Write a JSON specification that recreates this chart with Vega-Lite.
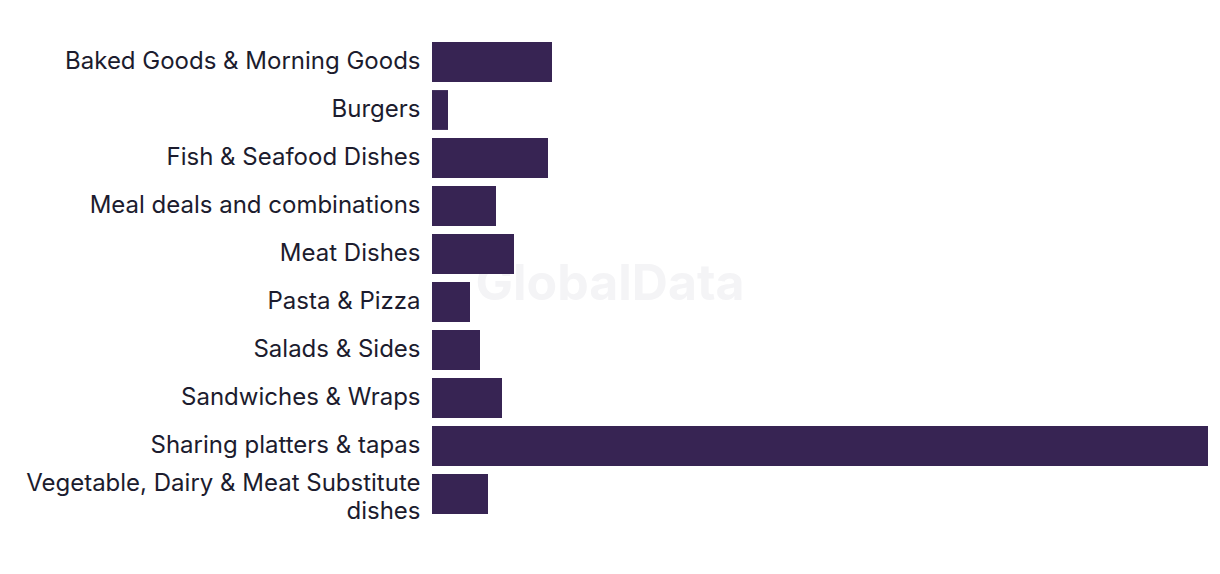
{
  "$schema": "https://vega.github.io/schema/vega-lite/v6.json",
  "width": 776,
  "height": 480,
  "autosize": {"type": "none"},
  "padding": {"left": 432, "top": 38, "right": 12, "bottom": 56},
  "background": "white",
  "config": {"view": {"stroke": null}, "font": "Inter"},
  "data": {"values": [
    {"category": "Baked Goods & Morning Goods", "value": 120},
    {"category": "Burgers", "value": 16},
    {"category": "Fish & Seafood Dishes", "value": 116},
    {"category": "Meal deals and combinations", "value": 64},
    {"category": "Meat Dishes", "value": 82},
    {"category": "Pasta & Pizza", "value": 38},
    {"category": "Salads & Sides", "value": 48},
    {"category": "Sandwiches & Wraps", "value": 70},
    {"category": "Sharing platters & tapas", "value": 776},
    {"category": "Vegetable, Dairy & Meat Substitute dishes", "value": 56}
  ]},
  "encoding": {
    "y": {
      "field": "category", "type": "nominal",
      "sort": ["Baked Goods & Morning Goods", "Burgers", "Fish & Seafood Dishes", "Meal deals and combinations", "Meat Dishes", "Pasta & Pizza", "Salads & Sides", "Sandwiches & Wraps", "Sharing platters & tapas", "Vegetable, Dairy & Meat Substitute dishes"],
      "scale": {"paddingInner": 0.17, "paddingOuter": 0.085},
      "axis": {
        "title": null, "domain": false, "ticks": false, "labelPadding": 12,
        "labelFontSize": 24, "labelColor": "#1c1c2e", "labelLimit": 500,
        "labelLineHeight": 28,
        "labelOffset": {"condition": {"test": "datum.value == 'Vegetable, Dairy & Meat Substitute dishes'", "value": -10}, "value": 0},
        "labelExpr": "datum.label == 'Vegetable, Dairy & Meat Substitute dishes' ? ['Vegetable, Dairy & Meat Substitute', 'dishes'] : datum.label"
      }
    },
    "x": {
      "field": "value", "type": "quantitative",
      "scale": {"domain": [0, 776], "nice": false},
      "axis": null
    }
  },
  "layer": [
    {
      "transform": [{"filter": "datum.category == 'Pasta & Pizza'"}],
      "mark": {"type": "text", "text": "GlobalData", "fontSize": 50, "fontWeight": "bold", "color": "#f4f4f6", "dy": -17, "font": "Inter"},
      "encoding": {
        "x": {"datum": 178, "type": "quantitative", "axis": null}
      }
    },
    {
      "mark": {"type": "bar", "color": "#372453"}
    }
  ]
}
